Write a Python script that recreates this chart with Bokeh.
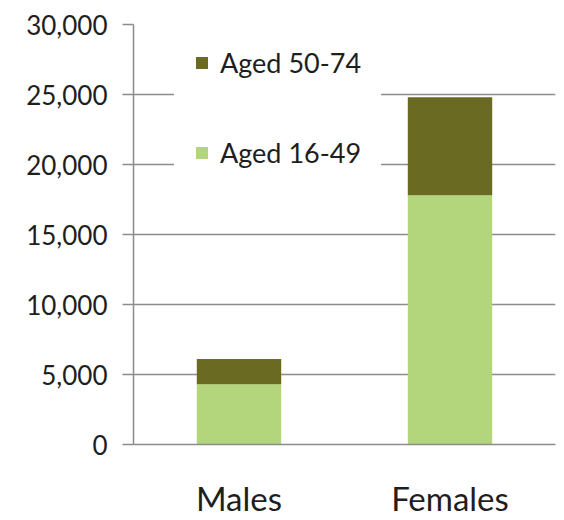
from bokeh.plotting import figure
from bokeh.models import FactorRange, Range1d, Legend, LegendItem, NumeralTickFormatter, FixedTicker
from bokeh.embed import file_html
from bokeh.resources import INLINE

# Counts by sex, split into two age bands
groups = ["Males", "Females"]
aged_16_49 = [4300, 17800]
aged_50_74 = [1800, 7000]
y_ticks = [0, 5000, 10000, 15000, 20000, 25000, 30000]

light = "#b3d67c"
dark = "#6b6a22"
ink = "#1e1e1e"
rule = "#8c8c8c"
font = "Lato"

p = figure(
    x_range=FactorRange(*groups),
    y_range=Range1d(0, 30000),
    width=564, height=520,
    output_backend="svg", toolbar_location=None,
    min_border_left=133, min_border_right=9,
    min_border_top=24, min_border_bottom=75,
)
p.outline_line_color = None
p.background_fill_color = "white"
p.border_fill_color = "white"

data = {"group": groups, "young": aged_16_49, "old": aged_50_74}
renderers = p.vbar_stack(
    ["young", "old"], x="group", width=0.4, source=data,
    color=[light, dark], line_color=None,
)

# legend on an opaque white panel; the white border widens the panel
legend = Legend(
    items=[
        LegendItem(label="Aged 50-74", renderers=[renderers[1]]),
        LegendItem(label="Aged 16-49", renderers=[renderers[0]]),
    ],
    location=(41, 255),
    padding=0, spacing=57, margin=0,
    glyph_width=15, glyph_height=15, label_height=27,
    label_standoff=11,
    label_text_font=font, label_text_font_size="27px", label_text_color=ink,
    border_line_color="white", border_line_width=20,
    background_fill_color="white", background_fill_alpha=1.0,
)
p.add_layout(legend)

# vertical axis
p.yaxis.ticker = FixedTicker(ticks=y_ticks)
p.yaxis.formatter = NumeralTickFormatter(format="0,0")
p.yaxis.major_label_text_font = font
p.yaxis.major_label_text_font_size = "26px"
p.yaxis.major_label_text_color = ink
p.yaxis.major_label_standoff = 15
p.yaxis.major_tick_out = 11
p.yaxis.major_tick_in = 0
p.yaxis.minor_tick_line_color = None
p.yaxis.axis_line_color = rule
p.yaxis.axis_line_width = 1.5
p.yaxis.major_tick_line_color = rule
p.yaxis.major_tick_line_width = 1.5

# horizontal axis
p.xaxis.major_label_text_font = font
p.xaxis.major_label_text_font_size = "33px"
p.xaxis.major_label_text_color = ink
p.xaxis.major_label_standoff = 33
p.xaxis.major_tick_out = 0
p.xaxis.major_tick_in = 0
p.xaxis.major_tick_line_color = None
p.xaxis.axis_line_color = rule
p.xaxis.axis_line_width = 1.5

p.xgrid.grid_line_color = None
p.ygrid.grid_line_color = rule
p.ygrid.grid_line_width = 1.5

open("out.html", "w").write(file_html(p, INLINE))
